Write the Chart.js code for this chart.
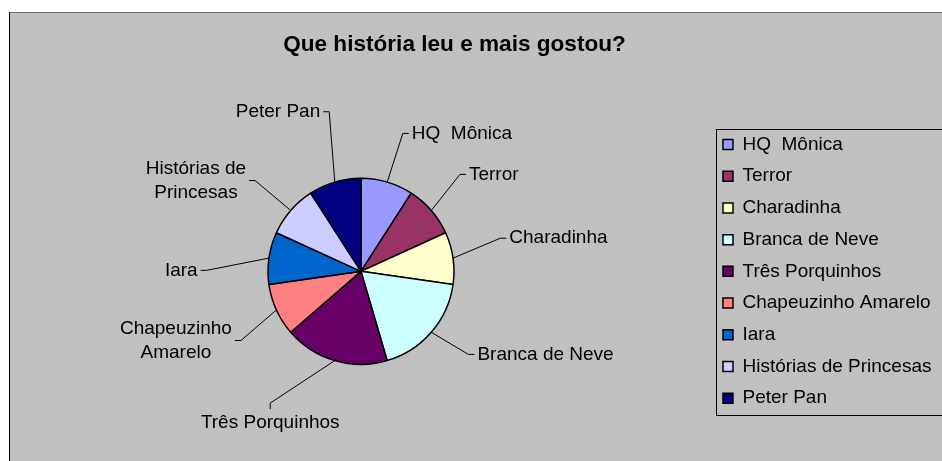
<!DOCTYPE html>
<html>
<head>
<meta charset="utf-8">
<script src="https://cdn.jsdelivr.net/npm/chart.js@4/dist/chart.umd.min.js"></script>
<style>
  html, body { margin: 0; padding: 0; background: #fff; overflow: hidden; }
  #frame {
    position: absolute; left: 9px; top: 12px; width: 1000px; height: 460px;
    background: #c0c0c0; border-left: 1px solid #000; border-top: 1px solid #6e6e6e;
    overflow: hidden;
  }
  #pieChart { position: absolute; left: 0; top: 0; }
</style>
</head>
<body>
<div id="frame"><canvas id="pieChart" width="950" height="448"></canvas></div>
<script>
const stories = ["HQ  Mônica", "Terror", "Charadinha", "Branca de Neve", "Três Porquinhos",
  "Chapeuzinho Amarelo", "Iara", "Histórias de Princesas", "Peter Pan"];
const votes = [1, 1, 1, 2, 2, 1, 1, 1, 1];
const sliceColors = ["#9999ff", "#993366", "#ffffcc", "#ccffff", "#660066",
  "#ff8080", "#0066cc", "#ccccff", "#000080"];

// where each outside label sits: angle shift from slice middle (deg), distance (x radius)
const labelShift = [0.5, -3.5, -5.2, -3.2, 18.2, -5.4, -7.8, -0.3, 5.1];
const labelDist = [1.55, 1.49, 1.54, 1.46, 1.72, 1.49, 1.66, 1.50, 1.75];

const FONT = '"Liberation Sans", Arial, sans-serif';
const TITLE_CENTER_X = 444.5; // excel put the title off the plot centre

function wrapText(ctx, text, maxW) {
  const words = text.split(' ');
  const lines = [];
  let cur = '';
  words.forEach(w => {
    const test = cur === '' ? w : cur + ' ' + w;
    if (cur !== '' && ctx.measureText(test).width > maxW) {
      lines.push(cur);
      cur = w;
    } else {
      cur = test;
    }
  });
  lines.push(cur);
  return lines;
}

const moveTitle = {
  id: 'moveTitle',
  afterLayout(chart) {
    const t = chart.titleBlock;
    if (!t) return;
    const shift = TITLE_CENTER_X - (t.left + t.right) / 2;
    t.left += shift;
    t.right += shift;
  }
};

// excel style labels with leader lines
const leaderLabels = {
  id: 'leaderLabels',
  afterDatasetsDraw(chart) {
    const ctx = chart.ctx;
    const arcs = chart.getDatasetMeta(0).data;
    ctx.save();
    ctx.font = '19px ' + FONT;
    ctx.fillStyle = '#000';
    ctx.strokeStyle = '#000';
    ctx.lineWidth = 1;
    ctx.textBaseline = 'middle';
    ctx.textAlign = 'center';
    arcs.forEach((arc, i) => {
      const p = arc.getProps(['x', 'y', 'startAngle', 'endAngle', 'outerRadius'], true);
      const mid = (p.startAngle + p.endAngle) / 2;
      const a2 = mid + labelShift[i] * Math.PI / 180;
      const sx = p.x + Math.cos(mid) * p.outerRadius;
      const sy = p.y + Math.sin(mid) * p.outerRadius;
      const ex = p.x + Math.cos(a2) * p.outerRadius * labelDist[i];
      const ey = p.y + Math.sin(a2) * p.outerRadius * labelDist[i];
      const fromTop = ((a2 + Math.PI / 2) * 180 / Math.PI + 360) % 360;
      const lines = wrapText(ctx, stories[i], 170);
      const lh = 24.5;

      ctx.beginPath();
      ctx.moveTo(sx, sy);
      ctx.lineTo(ex, ey);
      if (fromTop > 160 && fromTop < 220) {
        ctx.lineTo(ex, ey + 6);
        ctx.stroke();
        lines.forEach((t, k) => ctx.fillText(t, ex, ey + 20 + k * lh));
      } else {
        const dir = fromTop < 180 ? 1 : -1;
        ctx.lineTo(ex + dir * 6, ey);
        ctx.stroke();
        const w = Math.max(...lines.map(t => ctx.measureText(t).width));
        const cx = dir > 0 ? ex + 9 + w / 2 : ex - 9 - w / 2;
        const top = ey - (lines.length - 1) * lh / 2;
        lines.forEach((t, k) => ctx.fillText(t, cx, top + k * lh));
      }
    });
    ctx.restore();
  }
};

// frame round the legend, like excel
const legendFrame = {
  id: 'legendFrame',
  afterDraw(chart) {
    const boxes = chart.legend.legendHitBoxes;
    if (!boxes || !boxes.length) return;
    const first = boxes[0];
    const last = boxes[boxes.length - 1];
    const ctx = chart.ctx;
    ctx.save();
    ctx.strokeStyle = '#000';
    ctx.lineWidth = 1;
    const x = Math.round(first.left - 7) + 0.5;
    const y = Math.round(first.top - 6.5) + 0.5;
    const h = Math.round(last.top + last.height - first.top + 13);
    ctx.strokeRect(x, y, chart.width, h);
    ctx.restore();
  }
};

new Chart(document.getElementById('pieChart'), {
  type: 'pie',
  data: {
    labels: stories,
    datasets: [{
      data: votes,
      backgroundColor: sliceColors,
      borderColor: '#000',
      borderWidth: 1.5
    }]
  },
  options: {
    responsive: false,
    animation: false,
    radius: 93,
    layout: { padding: { left: 1.7, right: 18.5, top: 0, bottom: 0 } },
    plugins: {
      title: {
        display: true,
        text: 'Que história leu e mais gostou?',
        color: '#000',
        font: { family: FONT, size: 22.6, weight: 'bold' },
        padding: { top: 18, bottom: 23.6 }
      },
      legend: {
        position: 'right',
        fullSize: false,
        labels: {
          color: '#000',
          font: { family: FONT, size: 19 },
          boxWidth: 10,
          boxHeight: 10,
          padding: 12.7
        }
      },
      tooltip: { enabled: false }
    }
  },
  plugins: [moveTitle, leaderLabels, legendFrame]
});
</script>
</body>
</html>
